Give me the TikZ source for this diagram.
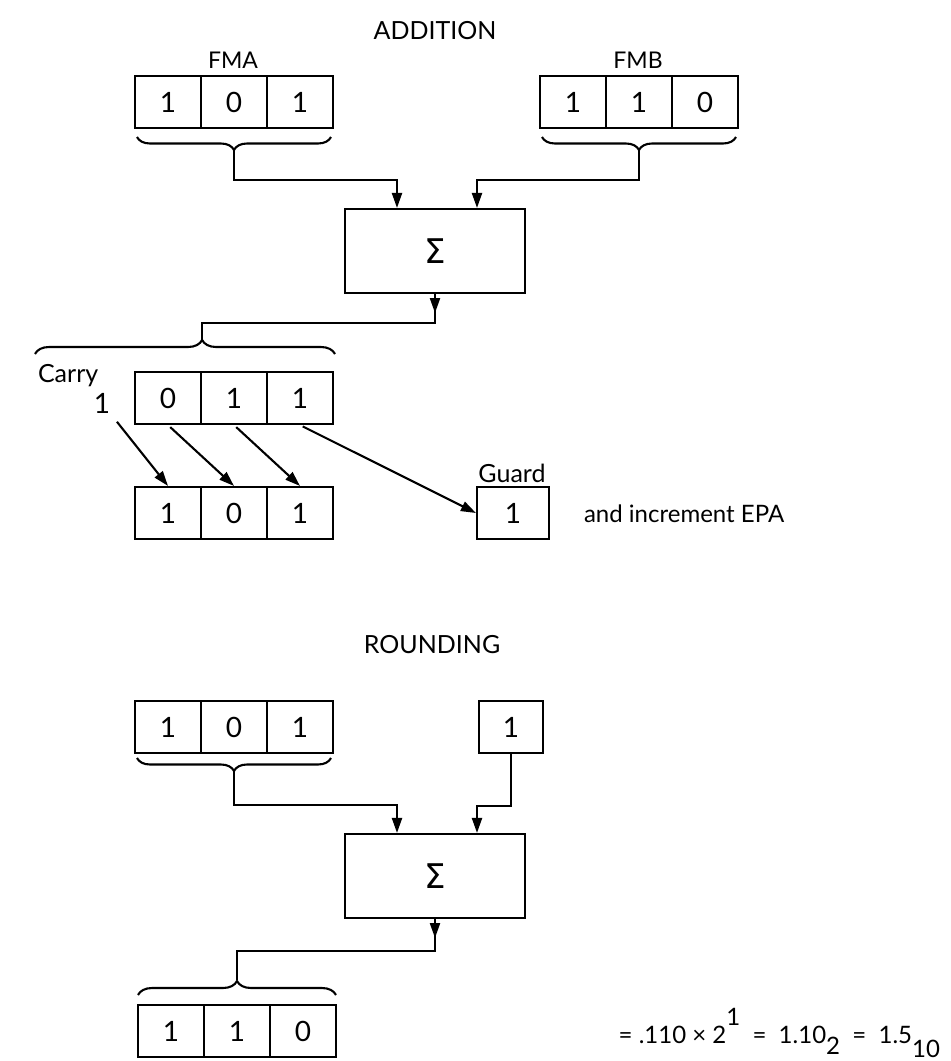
\documentclass[tikz,border=0pt]{standalone}
\usepackage{fontspec}
\setmainfont{Lato}
\newfontfamily\symfont{DejaVu Sans}
\usetikzlibrary{arrows.meta,decorations.pathreplacing,calc}
\begin{document}
\begin{tikzpicture}[x=1pt,y=-1pt, line width=2.1pt,
  cell/.style={draw, minimum width=66pt, minimum height=52pt, inner sep=0pt, font=\fontsize{28}{28}\selectfont},
  lbl/.style={inner sep=0pt, anchor=base, font=\fontsize{23}{23}\selectfont},
  ttl/.style={inner sep=0pt, anchor=base, font=\fontsize{25}{25}\selectfont},
  txt/.style={inner sep=0pt, font=\fontsize{25}{25}\selectfont},
  ftxt/.style={inner sep=0pt, font=\fontsize{24}{24}\selectfont},
  sumbox/.style={draw, minimum width=180pt, minimum height=84pt, inner sep=0pt, font=\symfont\fontsize{34}{34}\selectfont},
  arr/.style={-{Triangle[length=15pt,width=10pt]}},
  brdown/.style={decorate, decoration={brace, mirror, amplitude=13pt}},
  brup/.style={decorate, decoration={brace, amplitude=14pt, aspect=#1}},
]
\useasboundingbox (0,0) rectangle (951,1061);

% ---------------- ADDITION ----------------
\node[ttl] (tadd) at (435,39) {ADDITION};
\node[lbl] (lfma) at (233,68) {FMA};
\node[lbl] (lfmb) at (638,68) {FMB};

\node[cell] (a1) at (168,102) {1};
\node[cell] (a2) at (234,102) {0};
\node[cell] (a3) at (300,102) {1};
\node[cell] (b1) at (573,102) {1};
\node[cell] (b2) at (639,102) {1};
\node[cell] (b3) at (705,102) {0};

\draw[brdown] (137,137) -- (331,137);
\draw[brdown] (542,137) -- (736,137);
\coordinate (tA) at (234,150);
\coordinate (tB) at (639,150);

\node[sumbox] (s1) at (435,251) {Σ};

\draw[arr] (tA) -- ++(0,30) -| ([xshift=-38pt]s1.north);
\draw[arr] (tB) -- ++(0,30) -| ([xshift=42pt]s1.north);

\draw[arr] (s1.south) -- ++(0,19);
\coordinate (tC) at (202,340);
\draw (s1.south) -- ++(0,29) -| (tC);
\draw[brup=0.557] (35,354) -- (335,354);

\node[txt, anchor=base west] (carry) at (37,382) {Carry};
\node[cell, draw=none] (cy) at (102,403) {1};
\node[cell] (c1) at (168,398) {0};
\node[cell] (c2) at (234,398) {1};
\node[cell] (c3) at (300,398) {1};

\node[cell] (d1) at (168,513) {1};
\node[cell] (d2) at (234,513) {0};
\node[cell] (d3) at (300,513) {1};

\node[txt, anchor=base] (lguard) at (512,482) {Guard};
\node[cell, minimum width=72pt] (g) at (513,513) {1};
\node[ftxt, anchor=base west] (epa) at (583,522) {and increment EPA};

\draw[arr, shorten <=24pt] (cy.center) -- (d1.north);
\draw[arr, shorten <=3pt] (c1.south) -- (d2.north);
\draw[arr, shorten <=3pt] (c2.south) -- (d3.north);
\draw[arr, shorten <=3pt] (c3.south) -- (g.west);

% ---------------- ROUNDING ----------------
\node[ttl] (trnd) at (432,653) {ROUNDING};
\node[cell] (e1) at (168,727) {1};
\node[cell] (e2) at (234,727) {0};
\node[cell] (e3) at (300,727) {1};
\node[cell, minimum width=64pt] (rg) at (511,727) {1};
\draw[brdown] (137,758) -- (331,758);
\coordinate (tE) at (234,771);

\node[sumbox] (s2) at (435,876) {Σ};
\draw[arr] (tE) -- ++(0,34) -| ([xshift=-38pt]s2.north);
\draw[arr] (rg.south) -- ++(0,52) -| ([xshift=42pt]s2.north);

\draw[arr] (s2.south) -- ++(0,19);
\coordinate (tF) at (237,980);
\draw (s2.south) -- ++(0,32) -| (tF);
\draw[brup=0.5] (138,995) -- (336,995);

\node[cell] (f1) at (171,1031) {1};
\node[cell] (f2) at (237,1031) {1};
\node[cell] (f3) at (303,1031) {0};

\node[ftxt, anchor=base east] (fm) at (941,1043) {= .110 × 2\raisebox{18pt}{1} \ = \ 1.10\raisebox{-11pt}{2} \ = \ 1.5\raisebox{-14pt}{10}};
\end{tikzpicture}
\end{document}
